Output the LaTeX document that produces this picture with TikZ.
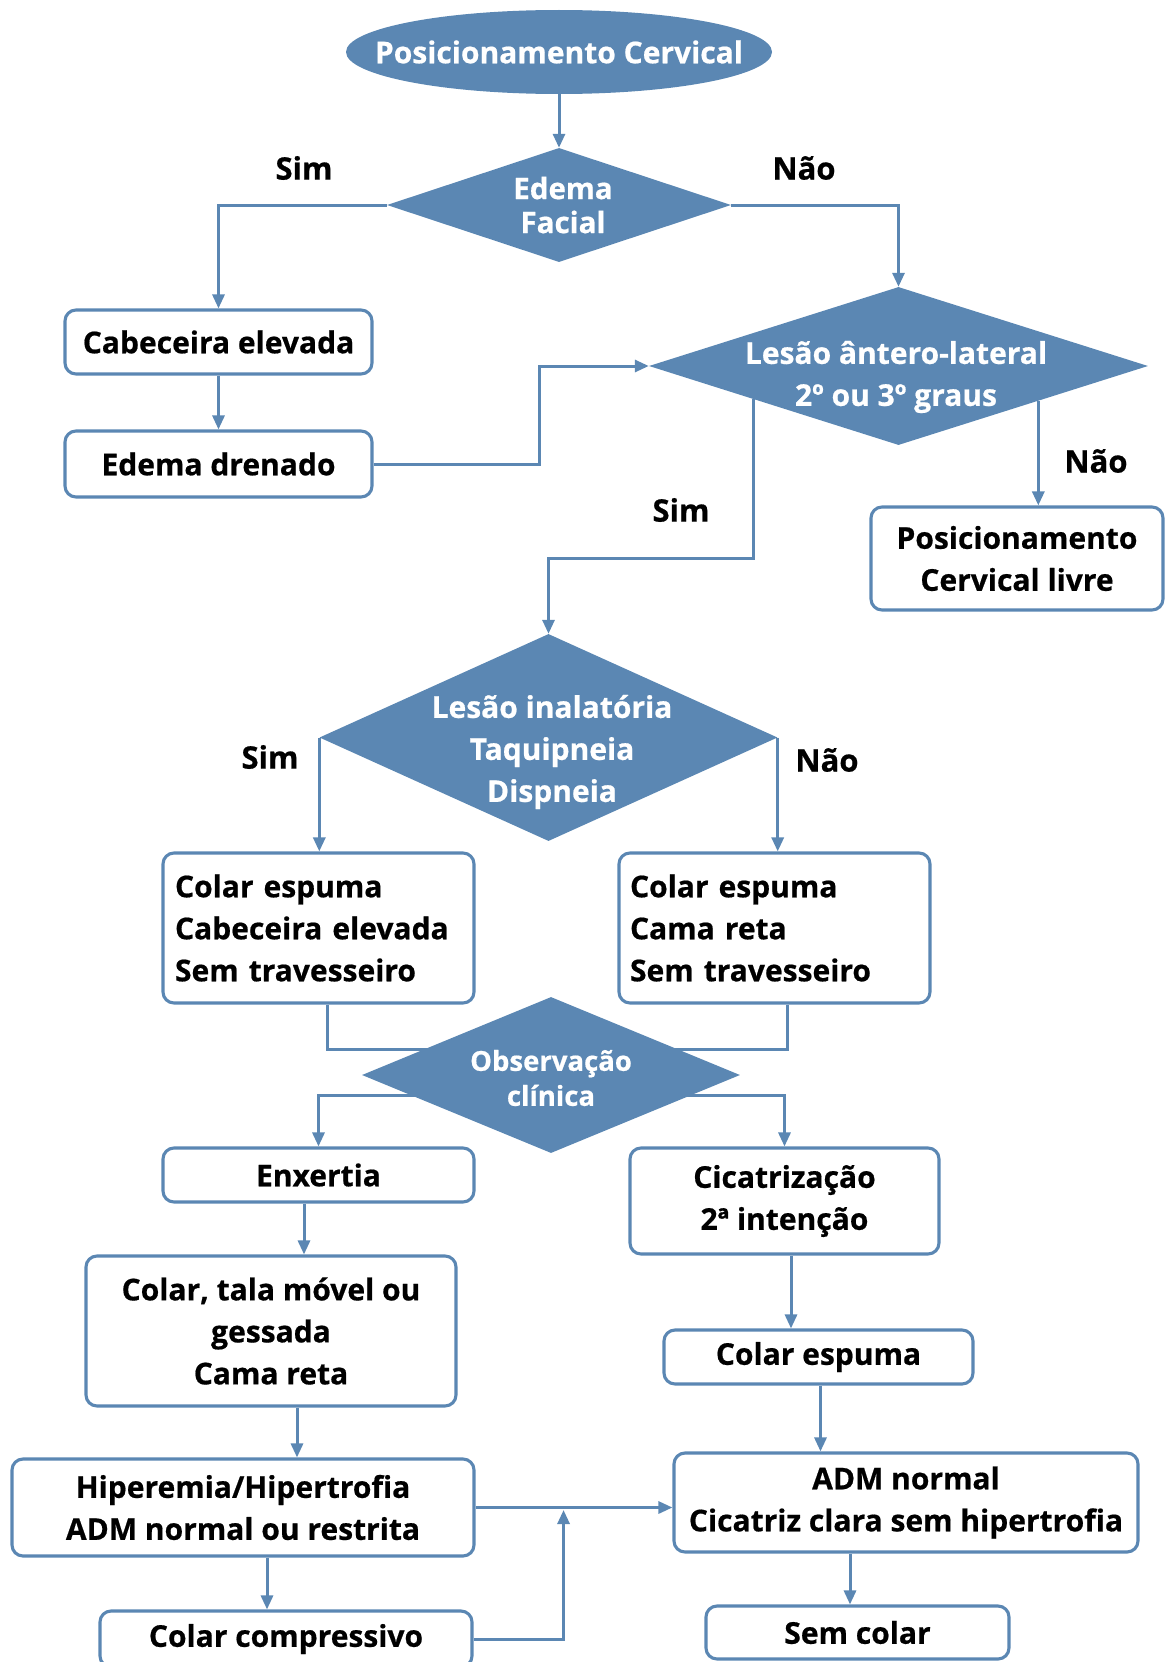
\documentclass[tikz,border=0pt]{standalone}
\usepackage{fontspec}
\setmainfont{Open Sans}[BoldFeatures={FakeBold=0.6}]
\usetikzlibrary{shapes.geometric,arrows.meta,calc}
\definecolor{fc}{RGB}{91,135,179}
\pgfdeclarelayer{bg}
\pgfsetlayers{bg,main}
\tikzset{
  box/.style={draw=fc,line width=3.1pt,rounded corners=11pt,fill=white,inner sep=0pt,
    font=\fontsize{30}{42}\selectfont\bfseries,align=center},
  dia/.style={diamond,fill=fc,inner sep=0pt},
  wtxt/.style={text=white,font=\fontsize{30}{42}\selectfont\bfseries,align=center,inner sep=0pt},
  lbl/.style={font=\fontsize{31}{34}\selectfont\bfseries,inner sep=0pt},
  conn/.style={draw=fc,line width=3pt},
  arr/.style={conn,-{Triangle[length=14pt,width=12pt]}},
}
\begin{document}
\begin{tikzpicture}[x=1pt,y=-1pt]
\useasboundingbox (0,0) rectangle (1165,1662);
% top ellipse
\node[ellipse,fill=fc,minimum width=426pt,minimum height=84pt,inner sep=0pt] (ell) at (559,52) {};
\node[wtxt] (ellt) at (559,52) {Posicionamento Cervical};
% diamond 1
\node[dia,minimum width=344pt,minimum height=114pt] (d1) at (559,205) {};
\node[wtxt,font=\fontsize{29.5}{34}\selectfont\bfseries] (d1t) at (563,205) {Edema\\Facial};
% left boxes
\node[box,minimum width=307pt,minimum height=64pt] (b1) at (218.5,342) {Cabeceira elevada};
\node[box,minimum width=307pt,minimum height=66pt] (b2) at (218.5,464) {Edema drenado};
% diamond 2
\node[dia,minimum width=499pt,minimum height=158pt] (d2) at (898.5,366) {};
\node[wtxt] (d2t) at (896,377) {Lesão ântero-lateral\\2º ou 3º graus};
\node[box,minimum width=292pt,minimum height=103pt] (pcl) at (1017,558.5) {Posicionamento\\Cervical livre};
% diamond 3
\node[dia,minimum width=458pt,minimum height=207pt] (d3) at (548.5,737.5) {};
\node[wtxt] (d3t) at (552,752) {Lesão inalatória\\Taquipneia\\Dispneia};
\node[box,minimum width=311pt,minimum height=150pt,text width=287pt,align=left] (l3) at (318.5,928) {Colar espuma\\Cabeceira elevada\\Sem travesseiro};
\node[box,minimum width=311pt,minimum height=150pt,text width=289pt,align=left] (r3) at (774.5,928) {Colar espuma\\Cama reta\\Sem travesseiro};
% diamond 4
\node[dia,minimum width=378pt,minimum height=156pt] (d4) at (551,1075) {};
\node[wtxt,font=\fontsize{27.5}{35}\selectfont\bfseries] (d4t) at (551,1078) {Observação\\clínica};
% lower boxes
\node[box,minimum width=311pt,minimum height=54pt] (enx) at (318.5,1175) {Enxertia};
\node[box,minimum width=370pt,minimum height=150pt] (ct) at (271,1331) {Colar, tala móvel ou\\gessada\\Cama reta};
\node[box,minimum width=462pt,minimum height=97pt] (hip) at (243,1507.5) {Hiperemia/Hipertrofia\\ADM normal ou restrita};
\node[box,minimum width=372pt,minimum height=56pt] (cc) at (286,1639) {Colar compressivo};
\node[box,minimum width=309pt,minimum height=106pt] (cic) at (784.5,1201) {Cicatrização\\2ª intenção};
\node[box,minimum width=309pt,minimum height=54pt] (ce) at (818.5,1357) {Colar espuma};
\node[box,minimum width=464pt,minimum height=99pt] (adm) at (906,1502.5) {ADM normal\\Cicatriz clara sem hipertrofia};
\node[box,minimum width=303pt,minimum height=53pt] (sc) at (857.5,1632.5) {Sem colar};
% labels
\node[lbl] (s1) at (304,168) {Sim};
\node[lbl] (n1) at (804,168) {Não};
\node[lbl] (n2) at (1096,461) {Não};
\node[lbl] (s2) at (681,510) {Sim};
\node[lbl] (s3) at (270,757) {Sim};
\node[lbl] (n3) at (827,760) {Não};
% connectors
\begin{pgfonlayer}{bg}
\draw[arr] (ell.south) -- (d1.north);
\draw[arr] (d1.west) -| (b1.north);
\draw[arr] (d1.east) -| (d2.north);
\draw[arr] (b1.south) -- (b2.north);
\draw[arr] (b2.east) -- ++(166,0) |- (d2.west);
\draw[arr] (d2.-14.2) -- (d2.-14.2 |- pcl.north);
\draw[arr] (d2.193.2) |- ($(d3.north)+(0,-75)$) -- (d3.north);
\draw[arr] (d3.west) -- (d3.west |- l3.north);
\draw[arr] (d3.east) -- (d3.east |- r3.north);
\draw[conn] ([xshift=9pt]l3.south) |- ($(d4.center)+(0,-26)$);
\draw[conn] ([xshift=12.5pt]r3.south) |- ($(d4.center)+(0,-26)$);
\draw[arr] ($(d4.center)+(0,20)$) -| (enx.north);
\draw[arr] ($(d4.center)+(0,20)$) -| (cic.north);
\draw[arr] ([xshift=-14.5pt]enx.south) -- ([xshift=-14.5pt]enx.south |- ct.north);
\draw[arr] ([xshift=26pt]ct.south) -- ([xshift=26pt]ct.south |- hip.north);
\draw[arr] ([xshift=24pt]hip.south) -- ([xshift=24pt]hip.south |- cc.north);
\draw[arr] (cc.east) -- ++(90,0) -- ++(0,-129);
\draw[arr] (hip.east) -- (hip.east -| adm.west);
\draw[arr] ([xshift=6.5pt]cic.south) -- ([xshift=6.5pt]cic.south |- ce.north);
\draw[arr] ([xshift=2pt]ce.south) -- ([xshift=2pt]ce.south |- adm.north);
\draw[arr] ([xshift=-56pt]adm.south) -- ([xshift=-56pt]adm.south |- sc.north);
\end{pgfonlayer}
\end{tikzpicture}
\end{document}
